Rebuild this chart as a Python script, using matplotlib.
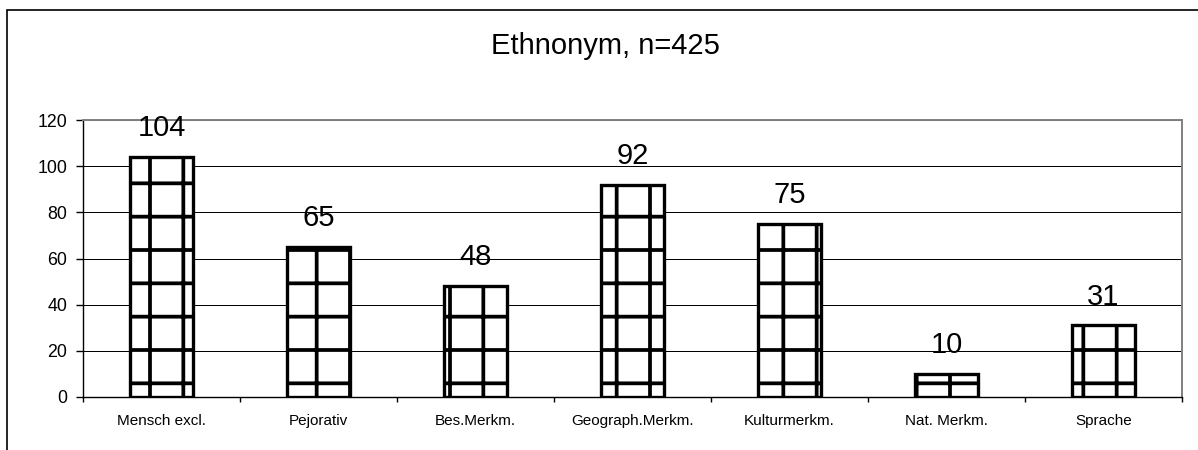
import numpy as np
import matplotlib
matplotlib.use('Agg')
import matplotlib.pyplot as plt
from matplotlib.patches import Rectangle

kategorien = ['Mensch excl.', 'Pejorativ', 'Bes.Merkm.', 'Geograph.Merkm.',
              'Kulturmerkm.', 'Nat. Merkm.', 'Sprache']
anzahl = [104, 65, 48, 92, 75, 10, 31]
titel = 'Ethnonym, n=425'

plt.rcParams['font.family'] = ['Liberation Sans', 'DejaVu Sans']
plt.rcParams['hatch.linewidth'] = 1.35
plt.rcParams['hatch.color'] = 'black'

# dpi 200 -> Schraffur '+' hat ca. 33 px Rasterabstand wie im Excel-Original
fig = plt.figure(figsize=(5.99, 2.25), dpi=200)
ax = fig.add_axes([0.0693, 0.1178, 0.9173, 0.6155])

x = np.arange(len(kategorien))
ax.bar(x, anzahl, width=0.4, color='white', edgecolor='black',
       linewidth=1.2, hatch='+', zorder=3)

for i, v in enumerate(anzahl):
    ax.annotate(str(v), (i, v), xytext=(0, 7.5), textcoords='offset points',
                ha='center', va='baseline', fontsize=10.5, zorder=4)

ax.set_xlim(-0.5, len(kategorien) - 0.5)
ax.set_ylim(0, 120)
ax.set_yticks(range(0, 121, 20))
ax.yaxis.grid(True, color='black', linewidth=0.36)
ax.set_axisbelow(True)

ax.set_xticks(x, kategorien, fontsize=5.5)
ax.set_xticks(np.arange(-0.5, len(kategorien)), minor=True)
ax.tick_params(axis='x', which='major', length=0, pad=6)
ax.tick_params(axis='x', which='minor', length=1.8, width=0.5, direction='out')
ax.tick_params(axis='y', length=2.5, width=0.5, pad=3.2, labelsize=6.4)

for s in ['left', 'bottom']:
    ax.spines[s].set_linewidth(0.5)
    ax.spines[s].set_color('black')
for s in ['right', 'top']:
    ax.spines[s].set_linewidth(0.7)
    ax.spines[s].set_color('#808080')

fig.text(0.505, 0.898, titel, ha='center', va='center', fontsize=10.5)

# Rahmen des Diagrammbereichs (rechts/unten abgeschnitten)
fig.patches.append(Rectangle((7 / 1198, -0.5), 1.5, 1.5 - 10 / 450,
                             transform=fig.transFigure, fill=False,
                             edgecolor='black', linewidth=0.6))

fig.savefig('out.png', dpi=200)
